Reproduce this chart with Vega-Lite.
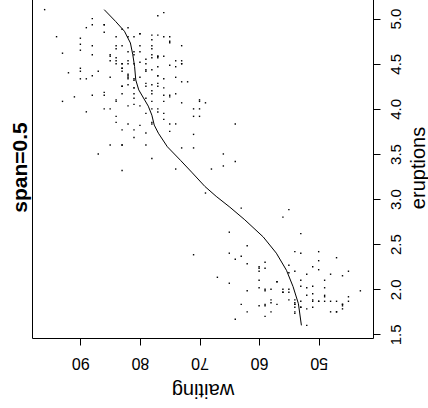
{
  "$schema": "https://vega.github.io/schema/vega-lite/v6.json",
  "autosize": "none",
  "width": 341,
  "height": 341,
  "padding": {"left": 32, "top": -3, "right": 55, "bottom": 70},
  "background": "white",
  "title": {"text": "span=0.5", "orient": "left", "anchor": "middle", "font": "Liberation Sans", "fontSize": 21, "fontWeight": "bold", "color": "black", "baseline": "alphabetic", "offset": -16},
  "config": {
    "view": {"stroke": "black", "strokeWidth": 1},
    "axis": {"domain": false, "grid": false, "tickColor": "black", "tickSize": 7, "tickWidth": 1, "labelColor": "black", "titleColor": "black", "labelFont": "Liberation Sans", "titleFont": "Liberation Sans", "titleFontWeight": "normal"}
  },
  "datasets": {
    "pts": [
      {"e":3.600,"w":79},{"e":1.800,"w":54},{"e":3.333,"w":74},{"e":2.283,"w":62},{"e":4.533,"w":85},{"e":2.883,"w":55},{"e":4.700,"w":88},{"e":3.600,"w":85},{"e":1.950,"w":51},{"e":4.350,"w":85},
      {"e":1.833,"w":54},{"e":3.917,"w":84},{"e":4.200,"w":78},{"e":1.750,"w":47},{"e":4.700,"w":83},{"e":2.167,"w":52},{"e":1.750,"w":62},{"e":4.800,"w":84},{"e":1.600,"w":52},{"e":4.250,"w":79},
      {"e":1.800,"w":51},{"e":1.750,"w":47},{"e":3.450,"w":78},{"e":3.067,"w":69},{"e":4.533,"w":74},{"e":3.600,"w":83},{"e":1.967,"w":55},{"e":4.083,"w":76},{"e":3.850,"w":78},{"e":4.433,"w":79},
      {"e":4.300,"w":73},{"e":4.467,"w":77},{"e":3.367,"w":66},{"e":4.033,"w":80},{"e":3.833,"w":74},{"e":2.017,"w":52},{"e":1.867,"w":48},{"e":4.833,"w":80},{"e":1.833,"w":59},{"e":4.783,"w":90},
      {"e":4.350,"w":80},{"e":1.883,"w":58},{"e":4.567,"w":84},{"e":1.750,"w":58},{"e":4.533,"w":73},{"e":3.317,"w":83},{"e":3.833,"w":64},{"e":2.100,"w":53},{"e":4.633,"w":82},{"e":2.000,"w":59},
      {"e":4.800,"w":75},{"e":4.716,"w":90},{"e":1.833,"w":54},{"e":4.833,"w":80},{"e":1.733,"w":54},{"e":4.883,"w":83},{"e":3.717,"w":71},{"e":1.667,"w":64},{"e":4.567,"w":77},{"e":4.317,"w":81},
      {"e":2.233,"w":59},{"e":4.500,"w":84},{"e":1.750,"w":48},{"e":4.800,"w":82},{"e":1.817,"w":60},{"e":4.400,"w":92},{"e":4.167,"w":78},{"e":4.700,"w":78},{"e":2.067,"w":65},{"e":4.700,"w":73},
      {"e":4.033,"w":82},{"e":1.967,"w":56},{"e":4.500,"w":79},{"e":4.000,"w":71},{"e":1.983,"w":62},{"e":5.067,"w":76},{"e":2.017,"w":60},{"e":4.567,"w":78},{"e":3.883,"w":76},{"e":3.600,"w":83},
      {"e":4.133,"w":75},{"e":4.333,"w":82},{"e":4.100,"w":70},{"e":2.633,"w":65},{"e":4.067,"w":73},{"e":4.933,"w":88},{"e":3.950,"w":76},{"e":4.517,"w":80},{"e":2.167,"w":48},{"e":4.000,"w":86},
      {"e":2.200,"w":60},{"e":4.333,"w":90},{"e":1.867,"w":50},{"e":4.817,"w":78},{"e":1.833,"w":63},{"e":4.300,"w":72},{"e":4.667,"w":84},{"e":3.750,"w":75},{"e":1.867,"w":51},{"e":4.900,"w":82},
      {"e":2.483,"w":62},{"e":4.367,"w":88},{"e":2.100,"w":49},{"e":4.500,"w":83},{"e":4.050,"w":81},{"e":1.867,"w":47},{"e":4.700,"w":84},{"e":1.783,"w":52},{"e":4.850,"w":86},{"e":3.683,"w":81},
      {"e":4.733,"w":75},{"e":2.300,"w":59},{"e":4.900,"w":89},{"e":4.417,"w":79},{"e":1.700,"w":59},{"e":4.633,"w":81},{"e":2.317,"w":50},{"e":4.600,"w":85},{"e":1.817,"w":59},{"e":4.417,"w":87},
      {"e":2.617,"w":53},{"e":4.067,"w":69},{"e":4.250,"w":77},{"e":1.967,"w":56},{"e":4.600,"w":88},{"e":3.767,"w":81},{"e":1.917,"w":45},{"e":4.500,"w":82},{"e":2.267,"w":55},{"e":4.650,"w":90},
      {"e":1.867,"w":45},{"e":4.167,"w":83},{"e":2.800,"w":56},{"e":4.333,"w":89},{"e":1.833,"w":46},{"e":4.383,"w":82},{"e":1.883,"w":51},{"e":4.933,"w":86},{"e":2.033,"w":53},{"e":3.733,"w":79},
      {"e":4.233,"w":81},{"e":2.233,"w":60},{"e":4.533,"w":82},{"e":4.817,"w":77},{"e":4.333,"w":76},{"e":1.983,"w":59},{"e":4.633,"w":80},{"e":2.017,"w":49},{"e":5.100,"w":96},{"e":1.800,"w":53},
      {"e":5.033,"w":77},{"e":4.000,"w":77},{"e":2.400,"w":65},{"e":4.600,"w":81},{"e":3.567,"w":71},{"e":4.000,"w":70},{"e":4.500,"w":81},{"e":4.083,"w":93},{"e":1.800,"w":53},{"e":3.967,"w":89},
      {"e":2.200,"w":45},{"e":4.150,"w":86},{"e":2.000,"w":58},{"e":3.833,"w":78},{"e":3.500,"w":66},{"e":4.583,"w":76},{"e":2.367,"w":63},{"e":5.000,"w":88},{"e":1.933,"w":52},{"e":4.617,"w":93},
      {"e":1.917,"w":49},{"e":2.083,"w":57},{"e":4.583,"w":77},{"e":3.333,"w":68},{"e":4.167,"w":81},{"e":4.333,"w":81},{"e":4.500,"w":73},{"e":2.417,"w":50},{"e":4.000,"w":85},{"e":4.167,"w":74},
      {"e":1.883,"w":55},{"e":4.583,"w":77},{"e":4.250,"w":83},{"e":3.767,"w":83},{"e":2.033,"w":51},{"e":4.433,"w":78},{"e":4.083,"w":84},{"e":1.833,"w":46},{"e":4.417,"w":83},{"e":2.183,"w":55},
      {"e":4.800,"w":81},{"e":1.833,"w":57},{"e":4.800,"w":76},{"e":4.100,"w":84},{"e":3.966,"w":77},{"e":4.233,"w":81},{"e":3.500,"w":87},{"e":4.366,"w":77},{"e":2.250,"w":51},{"e":4.667,"w":78},
      {"e":2.100,"w":60},{"e":4.350,"w":82},{"e":4.133,"w":91},{"e":1.867,"w":53},{"e":4.600,"w":78},{"e":1.783,"w":46},{"e":4.367,"w":77},{"e":3.850,"w":84},{"e":1.933,"w":49},{"e":4.500,"w":83},
      {"e":2.383,"w":71},{"e":4.700,"w":80},{"e":1.867,"w":49},{"e":3.833,"w":75},{"e":3.417,"w":64},{"e":4.233,"w":76},{"e":2.400,"w":53},{"e":4.800,"w":94},{"e":2.000,"w":55},{"e":4.150,"w":76},
      {"e":1.867,"w":50},{"e":4.267,"w":82},{"e":1.750,"w":54},{"e":4.483,"w":75},{"e":4.000,"w":78},{"e":4.117,"w":79},{"e":4.083,"w":78},{"e":4.267,"w":78},{"e":3.917,"w":70},{"e":4.550,"w":79},
      {"e":4.083,"w":70},{"e":2.417,"w":54},{"e":4.183,"w":86},{"e":2.217,"w":50},{"e":4.450,"w":90},{"e":1.883,"w":54},{"e":1.850,"w":54},{"e":4.283,"w":77},{"e":3.950,"w":79},{"e":2.333,"w":64},
      {"e":4.150,"w":75},{"e":2.350,"w":47},{"e":4.933,"w":86},{"e":2.900,"w":63},{"e":4.583,"w":85},{"e":3.833,"w":82},{"e":2.083,"w":57},{"e":4.367,"w":82},{"e":2.133,"w":67},{"e":4.350,"w":74},
      {"e":2.200,"w":54},{"e":4.450,"w":83},{"e":3.567,"w":73},{"e":4.500,"w":73},{"e":4.150,"w":88},{"e":3.817,"w":80},{"e":3.917,"w":71},{"e":4.450,"w":83},{"e":2.000,"w":56},{"e":4.283,"w":79},
      {"e":4.767,"w":78},{"e":4.533,"w":84},{"e":1.850,"w":58},{"e":4.250,"w":83},{"e":1.983,"w":43},{"e":2.250,"w":60},{"e":4.750,"w":75},{"e":4.117,"w":81},{"e":2.150,"w":46},{"e":4.417,"w":90},
      {"e":1.817,"w":46},{"e":4.467,"w":74}
    ],
    "fit": [
      {"e":1.60,"w":52.9},{"e":1.84,"w":53.4},{"e":2.03,"w":54.3},{"e":2.21,"w":55.4},{"e":2.40,"w":57.1},{"e":2.58,"w":59.3},{"e":2.77,"w":62.4},{"e":2.91,"w":64.9},{"e":3.03,"w":67.2},{"e":3.14,"w":69.1},
      {"e":3.29,"w":71.2},{"e":3.43,"w":73.2},{"e":3.58,"w":75.4},{"e":3.73,"w":76.9},{"e":3.82,"w":77.6},{"e":3.93,"w":78.0},{"e":4.03,"w":78.6},{"e":4.12,"w":79.4},{"e":4.21,"w":80.2},{"e":4.32,"w":80.7},
      {"e":4.47,"w":80.9},{"e":4.60,"w":81.2},{"e":4.73,"w":81.6},{"e":4.86,"w":82.6},{"e":4.97,"w":84.1},{"e":5.10,"w":86.0}
    ]
  },
  "encoding": {
    "x": {"field": "w", "type": "quantitative",
      "scale": {"domain": [40.88, 98.12], "reverse": true, "nice": false, "zero": false},
      "axis": {"orient": "bottom", "values": [50, 60, 70, 80, 90], "labelAngle": 180, "labelAlign": "center", "labelBaseline": "middle", "labelPadding": 17, "labelFontSize": 16,
        "title": "waiting", "titleAngle": 180, "titleFontSize": 20, "titleX": 170.5, "titleY": 51, "titleAlign": "center", "titleBaseline": "middle"}},
    "y": {"field": "e", "type": "quantitative",
      "scale": {"domain": [1.46, 5.24], "nice": false, "zero": false},
      "axis": {"orient": "right", "values": [1.5, 2, 2.5, 3, 3.5, 4, 4.5, 5], "format": ".1f", "labelAngle": 270, "labelAlign": "center", "labelBaseline": "middle", "labelPadding": 15, "labelFontSize": 15,
        "title": "eruptions", "titleAngle": 270, "titleFontSize": 20, "titleX": 45, "titleY": 170.5, "titleAlign": "center", "titleBaseline": "middle"}}
  },
  "layer": [
    {"data": {"name": "pts"}, "mark": {"type": "square", "size": 2, "color": "black", "opacity": 1}},
    {"data": {"name": "fit"}, "mark": {"type": "line", "color": "black", "strokeWidth": 1}, "encoding": {"order": {"field": "e", "type": "quantitative"}}}
  ]
}
